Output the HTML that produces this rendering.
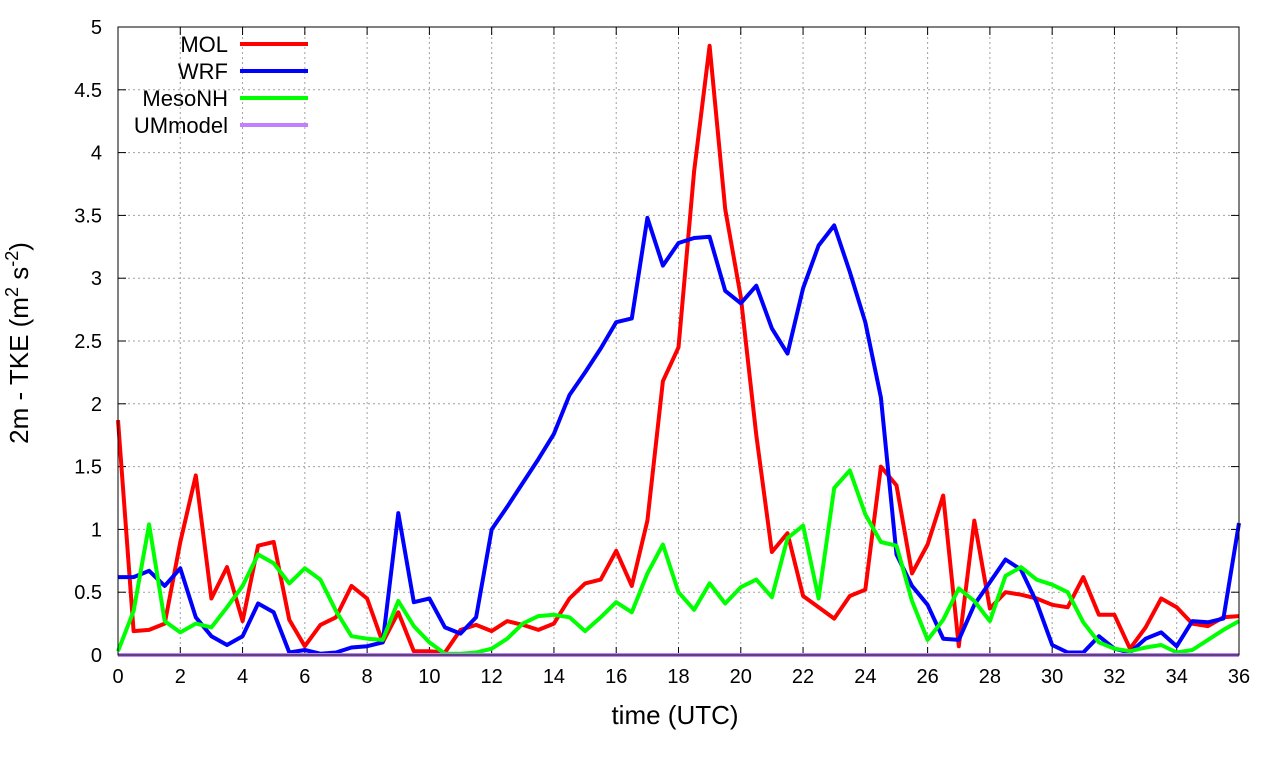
<!DOCTYPE html>
<html><head><meta charset="utf-8"><style>
body{margin:0;background:#fff;width:1280px;height:760px;overflow:hidden;font-family:"Liberation Sans",sans-serif}
</style></head><body>
<svg id="chart" width="1280" height="760" xmlns="http://www.w3.org/2000/svg" font-family="Liberation Sans, sans-serif"></svg>
<script>
const xTicks=[0,2,4,6,8,10,12,14,16,18,20,22,24,26,28,30,32,34,36];
const yTicks=[0,0.5,1,1.5,2,2.5,3,3.5,4,4.5,5];
const yTickLabels=["0","0.5","1","1.5","2","2.5","3","3.5","4","4.5","5"];
const seriesNames=["MOL","WRF","MesoNH","UMmodel"];
const seriesColors=["#ff0000","#0000ff","#00ff00","#c080ff"];
const molValues=[1.87,0.19,0.2,0.25,0.9,1.43,0.45,0.7,0.27,0.87,0.9,0.28,0.07,0.24,0.3,0.55,0.45,0.1,0.34,0.03,0.03,0.02,0.2,0.24,0.19,0.27,0.24,0.2,0.25,0.45,0.57,0.6,0.83,0.55,1.07,2.18,2.45,3.85,4.85,3.55,2.85,1.75,0.82,0.97,0.47,0.38,0.29,0.47,0.52,1.5,1.35,0.65,0.88,1.27,0.07,1.07,0.37,0.5,0.48,0.45,0.4,0.38,0.62,0.32,0.32,0.05,0.22,0.45,0.38,0.25,0.23,0.3,0.31];
const wrfValues=[0.62,0.62,0.67,0.55,0.69,0.3,0.15,0.08,0.15,0.41,0.34,0.02,0.04,0.01,0.02,0.06,0.07,0.1,1.13,0.42,0.45,0.22,0.17,0.3,1.0,1.18,1.37,1.56,1.76,2.07,2.25,2.44,2.65,2.68,3.48,3.1,3.28,3.32,3.33,2.9,2.8,2.94,2.6,2.4,2.92,3.26,3.42,3.05,2.65,2.05,0.8,0.55,0.4,0.13,0.12,0.4,0.58,0.76,0.68,0.42,0.08,0.02,0.02,0.15,0.05,0.02,0.13,0.18,0.07,0.27,0.26,0.29,1.05];
const mesoValues=[0.03,0.35,1.04,0.27,0.18,0.25,0.22,0.38,0.55,0.8,0.73,0.57,0.69,0.6,0.35,0.15,0.13,0.12,0.43,0.23,0.1,0.01,0.01,0.02,0.05,0.13,0.25,0.31,0.32,0.3,0.19,0.3,0.42,0.34,0.65,0.88,0.5,0.36,0.57,0.41,0.54,0.6,0.46,0.93,1.03,0.45,1.33,1.47,1.12,0.9,0.87,0.43,0.12,0.28,0.53,0.43,0.27,0.63,0.7,0.6,0.56,0.5,0.26,0.1,0.05,0.03,0.06,0.08,0.02,0.04,0.12,0.2,0.27];
const umValues=new Array(73).fill(0);
const timeStep=0.5;

const svg=document.getElementById('chart');
const NS="http://www.w3.org/2000/svg";
const L=118,R=1239,T=27,B=655;
const xs=v=>L+(v/36)*(R-L);
const ys=v=>B-(v/5)*(B-T);
function mk(tag,attrs,parent){const e=document.createElementNS(NS,tag);for(const k in attrs)e.setAttribute(k,attrs[k]);(parent||svg).appendChild(e);return e;}

const grid=mk('g',{});


xTicks.forEach(t=>{const l=mk('line',{x1:xs(t),x2:xs(t),y1:T,y2:B,stroke:'#a0a0a0','stroke-width':1,'stroke-dasharray':'2,3'},grid);

});
yTicks.forEach(t=>{const l=mk('line',{x1:L,x2:R,y1:ys(t),y2:ys(t),stroke:'#a0a0a0','stroke-width':1,'stroke-dasharray':'2,3'},grid);

});

const xAxis=mk('g',{});


xTicks.forEach(t=>{
 mk('line',{x1:xs(t),x2:xs(t),y1:B,y2:B-8,stroke:'#000'},xAxis);
 mk('line',{x1:xs(t),x2:xs(t),y1:T,y2:T+8,stroke:'#000'},xAxis);
 const tx=mk('text',{x:xs(t),y:B+28,'text-anchor':'middle','font-size':20},xAxis);tx.textContent=t;
 
 
});
const yAxis=mk('g',{});


yTicks.forEach((t,i)=>{
 mk('line',{x1:L,x2:L+8,y1:ys(t),y2:ys(t),stroke:'#000'},yAxis);
 mk('line',{x1:R,x2:R-8,y1:ys(t),y2:ys(t),stroke:'#000'},yAxis);
 const tx=mk('text',{x:L-16,y:ys(t)+7,'text-anchor':'end','font-size':20},yAxis);tx.textContent=yTickLabels[i];
 
 
});

const allSeries=[molValues,wrfValues,mesoValues,umValues];
const lines=mk('g',{});


allSeries.forEach((vals,si)=>{
 const d=vals.map((v,i)=>(i?'L':'M')+xs(i*timeStep).toFixed(1)+','+ys(v).toFixed(1)).join(' ');
 const p=mk('path',{d:d,fill:'none',stroke:seriesColors[si],'stroke-width':4,'stroke-linejoin':'round'},lines);
 
 
});

const border=mk('rect',{x:L,y:T,width:R-L,height:B-T,fill:'none',stroke:'#000','stroke-width':1});



const legend=mk('g',{});


seriesNames.forEach((n,i)=>{
 const y=44+i*27;
 const tx=mk('text',{x:228,y:y+8,'text-anchor':'end','font-size':22},legend);tx.textContent=n;
 
 
 const ln=mk('line',{x1:240,x2:308,y1:y,y2:y,stroke:seriesColors[i],'stroke-width':4},legend);
 
 
});

const xt=mk('text',{x:675,y:724,'text-anchor':'middle','font-size':26});xt.textContent='time (UTC)';


const yt=mk('text',{x:0,y:0,'text-anchor':'middle','font-size':26,transform:'translate(28,343) rotate(-90)'});
yt.innerHTML='2m - TKE (m<tspan dy="-10" font-size="18">2</tspan><tspan dy="10">  s</tspan><tspan dy="-10" font-size="18">-2</tspan><tspan dy="10">)</tspan>';


</script>
</body></html>
